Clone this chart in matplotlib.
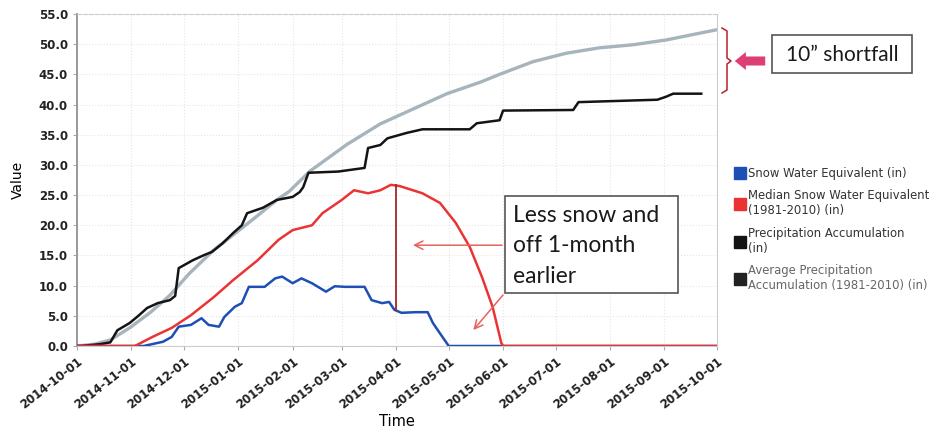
"""
Snowpack vs precipitation, WY2015 — recreated chart with annotations.
"""

import matplotlib
matplotlib.use("Agg")
import matplotlib.pyplot as plt
import matplotlib.dates as mdates
from matplotlib.lines import Line2D
from matplotlib.patches import Rectangle
import pandas as pd

BLUE   = "#1d4fb5"
RED    = "#ea3434"
BLACK  = "#141414"
GREY   = "#a7b4bc"
DKRED  = "#a3262a"
PINK   = "#de3f72"

# ---- data ----
avg_dates = ["2014-10-01", "2014-10-11", "2014-10-20", "2014-10-31", "2014-11-12",
             "2014-11-23", "2014-12-04", "2014-12-18", "2014-12-29", "2015-01-09",
             "2015-01-23", "2015-01-30", "2015-02-11", "2015-03-04", "2015-03-23",
             "2015-04-11", "2015-04-30", "2015-05-19", "2015-05-30", "2015-06-18",
             "2015-07-07", "2015-07-26", "2015-08-14", "2015-09-02", "2015-10-01"]
avg_vals = [0.0, 0.3, 1.0, 3.0, 5.6, 8.4, 12.0, 15.9, 18.4, 20.9, 24.2, 25.6, 29.0,
            33.4, 36.8, 39.3, 41.8, 43.7, 45.0, 47.1, 48.5, 49.4, 49.9, 50.7, 52.4]

pcp_dates = ["2014-10-01", "2014-10-03", "2014-10-14", "2014-10-20", "2014-10-24",
             "2014-10-31", "2014-11-05", "2014-11-10", "2014-11-16", "2014-11-23",
             "2014-11-26", "2014-11-28", "2014-12-06", "2014-12-12", "2014-12-17",
             "2014-12-23", "2014-12-29", "2015-01-03", "2015-01-06", "2015-01-15",
             "2015-01-23", "2015-02-01", "2015-02-05", "2015-02-07", "2015-02-10",
             "2015-02-27", "2015-03-14", "2015-03-16", "2015-03-23", "2015-03-27",
             "2015-04-07", "2015-04-16", "2015-05-13", "2015-05-17", "2015-05-30",
             "2015-06-01", "2015-07-11", "2015-07-14", "2015-08-28", "2015-09-02",
             "2015-09-06", "2015-09-22"]
pcp_vals = [0.0, 0.0, 0.3, 0.6, 2.6, 3.8, 5.0, 6.3, 7.1, 7.6, 8.3, 12.9, 14.2, 15.0,
            15.6, 17.0, 18.7, 20.0, 22.0, 22.9, 24.2, 24.7, 25.5, 26.3, 28.7, 28.9,
            29.5, 32.8, 33.3, 34.4, 35.3, 35.9, 35.9, 36.9, 37.4, 39.0, 39.1, 40.4,
            40.8, 41.3, 41.8, 41.8]

swe_dates = ["2014-10-01", "2014-11-08", "2014-11-19", "2014-11-24", "2014-11-28",
             "2014-12-05", "2014-12-11", "2014-12-15", "2014-12-21", "2014-12-24",
             "2014-12-30", "2015-01-03", "2015-01-07", "2015-01-16", "2015-01-22",
             "2015-01-26", "2015-02-01", "2015-02-06", "2015-02-12", "2015-02-20",
             "2015-02-25", "2015-03-03", "2015-03-14", "2015-03-18", "2015-03-24",
             "2015-03-28", "2015-03-31", "2015-04-04", "2015-04-12", "2015-04-19",
             "2015-04-22", "2015-04-26", "2015-05-01", "2015-10-01"]
swe_vals = [0.0, 0.0, 0.7, 1.5, 3.2, 3.5, 4.6, 3.5, 3.2, 4.8, 6.5, 7.1, 9.8, 9.8,
            11.2, 11.5, 10.4, 11.2, 10.4, 9.0, 9.9, 9.8, 9.8, 7.6, 7.1, 7.3, 6.0,
            5.5, 5.6, 5.6, 3.8, 2.1, 0.0, 0.0]

med_dates = ["2014-10-01", "2014-11-03", "2014-11-13", "2014-11-24", "2014-12-05",
             "2014-12-18", "2014-12-29", "2015-01-12", "2015-01-24", "2015-02-01",
             "2015-02-12", "2015-02-18", "2015-03-01", "2015-03-08", "2015-03-16",
             "2015-03-23", "2015-03-29", "2015-04-03", "2015-04-16", "2015-04-26",
             "2015-05-05", "2015-05-13", "2015-05-20", "2015-05-26", "2015-05-31",
             "2015-06-01", "2015-10-01"]
med_vals = [0.0, 0.0, 1.5, 3.0, 5.1, 8.1, 10.9, 14.2, 17.6, 19.2, 20.0, 22.0, 24.2,
            25.8, 25.3, 25.8, 26.7, 26.5, 25.3, 23.7, 20.4, 16.4, 11.4, 6.5, 0.5,
            0.0, 0.0]

legend_labels = ["Snow Water Equivalent (in)",
                 "Median Snow Water Equivalent\n(1981-2010) (in)",
                 "Precipitation Accumulation\n(in)",
                 "Average Precipitation\nAccumulation (1981-2010) (in)"]

W, H = 938, 443


def fx(px):
    return px / W


def fy(py):
    return 1 - py / H


fig = plt.figure(figsize=(W / 100, H / 100), dpi=100)
ax = fig.add_axes([fx(77), fy(346), fx(717) - fx(77), fy(14) - fy(346)])

ax.plot(pd.to_datetime(avg_dates), avg_vals, color=GREY, lw=2.4, zorder=2)
ax.plot(pd.to_datetime(pcp_dates), pcp_vals, color=BLACK, lw=1.8, zorder=3)
ax.plot(pd.to_datetime(swe_dates), swe_vals, color=BLUE, lw=1.8, zorder=4)
ax.plot(pd.to_datetime(med_dates), med_vals, color=RED, lw=1.8, zorder=5)

ax.set_xlim(pd.Timestamp("2014-10-01"), pd.Timestamp("2015-10-01"))
ax.set_ylim(0, 55)
ax.set_yticks([i * 5 for i in range(12)])
ax.yaxis.set_major_formatter(matplotlib.ticker.FormatStrFormatter("%.1f"))
ax.xaxis.set_major_locator(mdates.MonthLocator())
ax.xaxis.set_major_formatter(mdates.DateFormatter("%Y-%m-%d"))
plt.setp(ax.get_xticklabels(), rotation=38, ha="right", rotation_mode="anchor")
ax.tick_params(axis="both", labelsize=8.5, colors="#222222", length=3)
ax.tick_params(axis="both", color="#aaaaaa")
for lab in ax.get_xticklabels() + ax.get_yticklabels():
    lab.set_fontweight("bold")

ax.grid(True, color="#e6e6e6", linestyle=":", linewidth=0.8)
for side in ("top", "right", "bottom"):
    ax.spines[side].set_color("#cccccc")
    ax.spines[side].set_linewidth(0.8)
ax.spines["top"].set_linestyle("--")
ax.spines["left"].set_color("#999999")
ax.spines["left"].set_linewidth(1.4)

ax.set_ylabel("Value", fontsize=10, labelpad=10)
ax.set_xlabel("Time", fontsize=10.5, labelpad=2)

# --- annotations inside the plot ---
ax.plot([pd.Timestamp("2015-04-01")] * 2, [26.6, 6.0], color=DKRED, lw=1.3, zorder=6)
ax.annotate("", xy=(pd.Timestamp("2015-04-09"), 16.7),
            xytext=(pd.Timestamp("2015-06-02"), 16.7),
            arrowprops=dict(arrowstyle="->,head_length=0.6,head_width=0.3",
                            color="#e8625c", lw=1.1), zorder=7)
ax.annotate("", xy=(pd.Timestamp("2015-05-14"), 2.3),
            xytext=(pd.Timestamp("2015-06-02"), 8.8),
            arrowprops=dict(arrowstyle="->,head_length=0.6,head_width=0.3",
                            color="#e8625c", lw=1.1), zorder=7)

fig.patches.append(Rectangle((fx(505), fy(293)), fx(678) - fx(505), fy(196) - fy(293),
                             transform=fig.transFigure, facecolor="white",
                             edgecolor="#555555", lw=1.2, zorder=10))
fig.text(fx(513), fy(205), "Less snow and\noff 1-month\nearlier", fontsize=16.5,
         family="Lato", color="#1a1a1a", va="top", ha="left", linespacing=1.55,
         zorder=11)

# --- annotations outside the plot ---
fig.patches.append(Rectangle((fx(772), fy(73)), fx(912) - fx(772), fy(35) - fy(73),
                             transform=fig.transFigure, facecolor="white",
                             edgecolor="#555555", lw=1.2))
fig.text(fx(842), fy(55), "10\u201d shortfall", fontsize=15, family="Lato",
         color="#1a1a1a", ha="center", va="center")

fig.add_artist(Line2D([fx(722), fx(727), fx(727), fx(731), fx(727), fx(727), fx(722)],
                      [fy(28), fy(31), fy(58), fy(61), fy(64), fy(90), fy(93)],
                      transform=fig.transFigure, color="#b8202a", lw=1.1))
ax.annotate("", xy=(fx(732), fy(61)), xytext=(fx(768), fy(61)),
            xycoords="figure fraction", textcoords="figure fraction",
            arrowprops=dict(arrowstyle="simple,head_length=0.8,head_width=1.3,tail_width=0.65",
                            color=PINK, lw=0))

# --- legend ---
handles = [Line2D([], [], ls="none", marker="s", markersize=8, color=c)
           for c in (BLUE, RED, BLACK, "#222222")]
leg = fig.legend(handles, legend_labels, loc="upper left",
                 bbox_to_anchor=(fx(726), fy(159)), frameon=False, fontsize=8.4,
                 handletextpad=0.2, labelspacing=0.8, handlelength=1.0,
                 borderpad=0.2)
for t in leg.get_texts():
    t.set_color("#333333")
leg.get_texts()[3].set_color("#666666")

fig.savefig("out.png", dpi=100)
